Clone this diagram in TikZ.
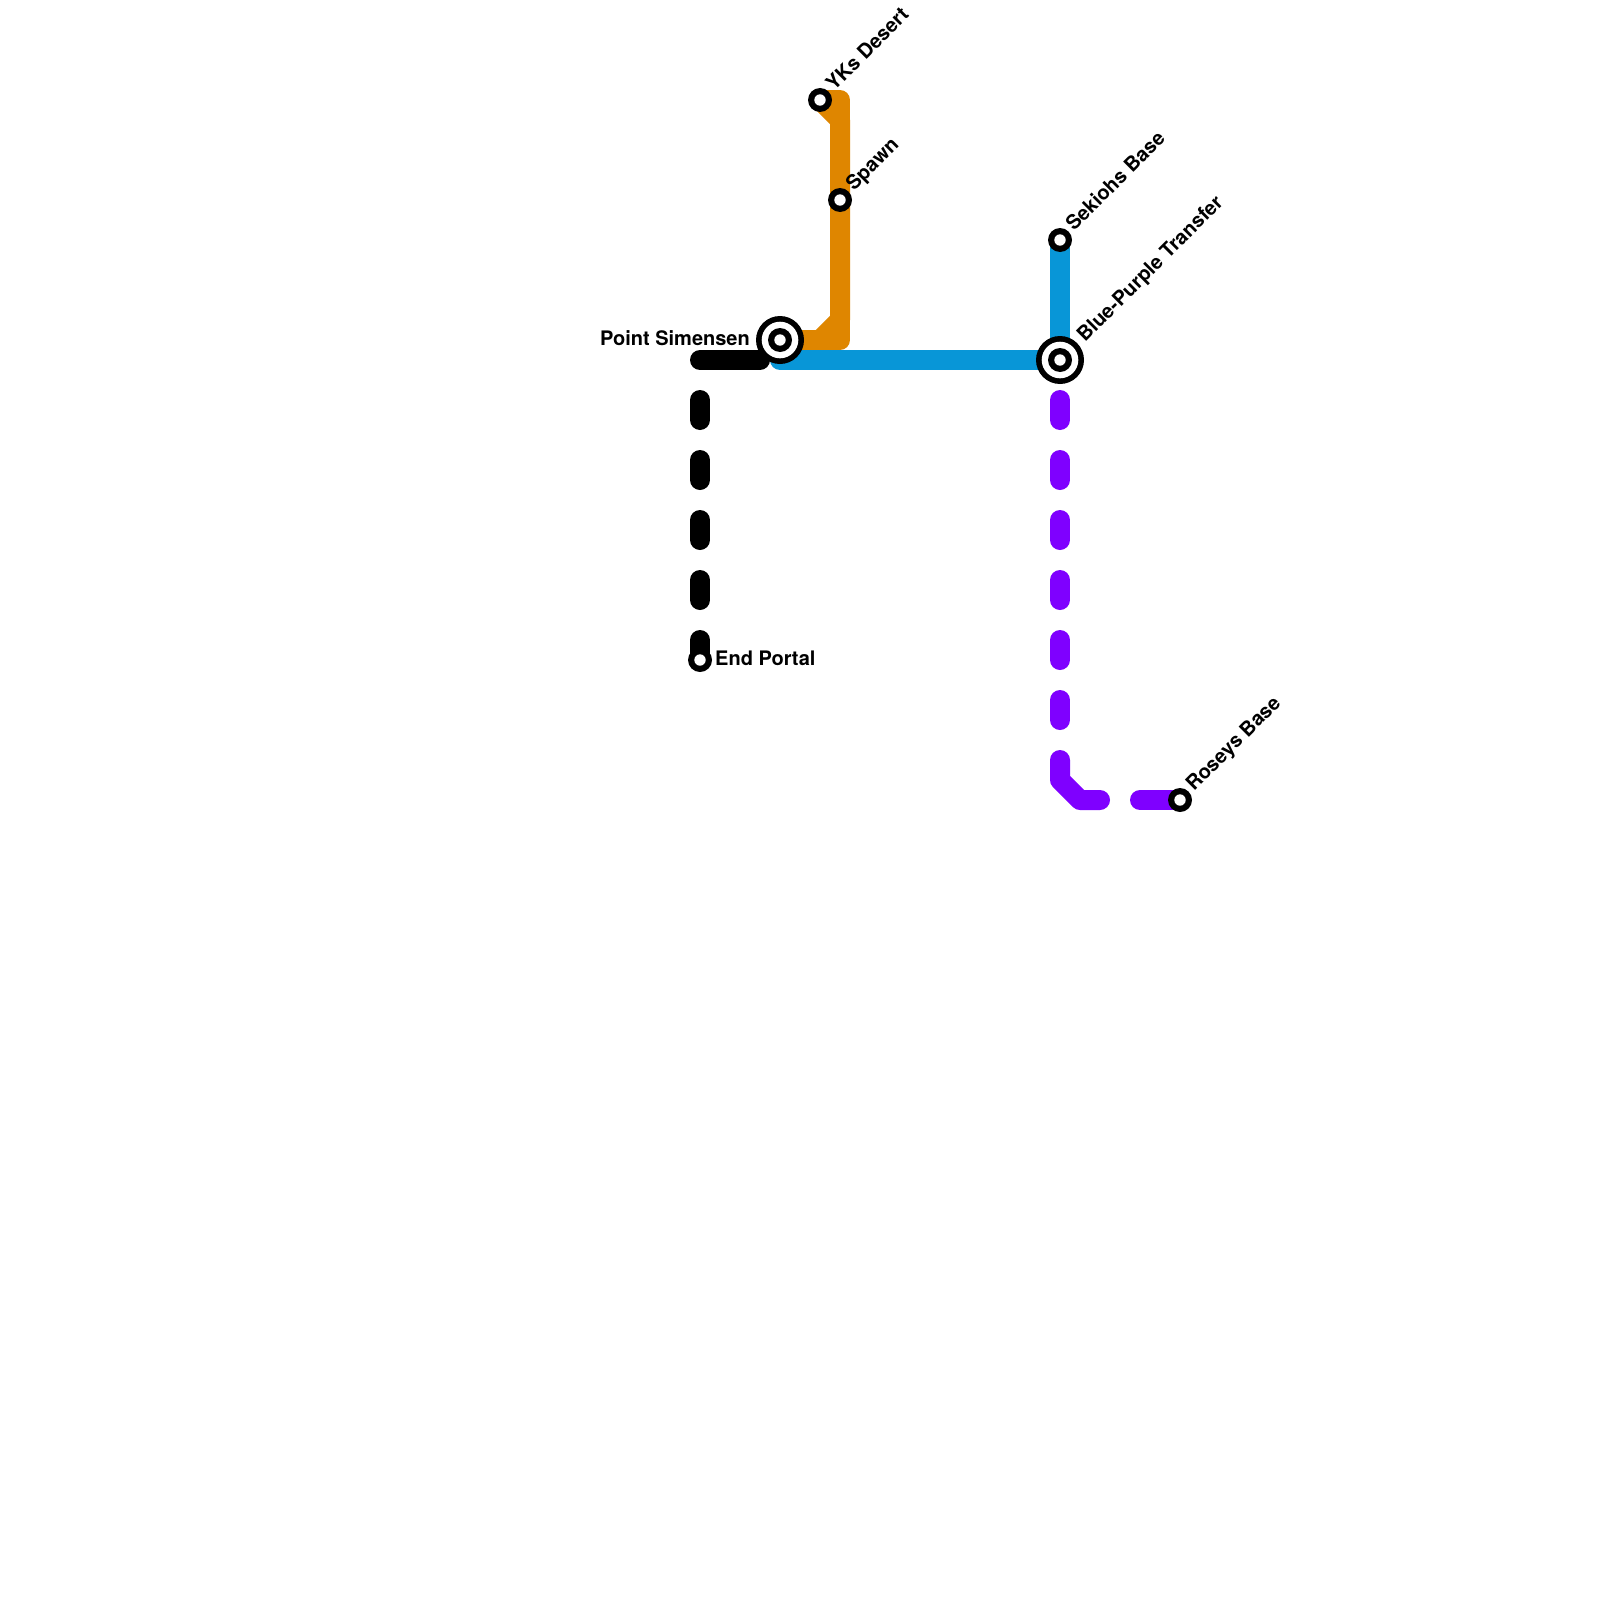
\documentclass[tikz,border=0pt]{standalone}
\usepackage{fontspec}
\setmainfont{TeX Gyre Heros}
\definecolor{orangeline}{HTML}{DF8600}
\definecolor{blueline}{HTML}{0896D7}
\definecolor{purpleline}{HTML}{7F00FF}
\tikzset{
  line/.style={line width=20pt,line join=round,line cap=round},
  lbl/.style={font=\fontsize{20pt}{24pt}\selectfont\bfseries,inner sep=0pt,text=black},
  diag/.style={lbl,rotate=45,anchor=base west},
}
\newcommand{\stopmark}[1]{%
  \fill[black] (#1) circle[radius=12pt];
  \fill[white] (#1) circle[radius=5.7pt];}
\newcommand{\hubmark}[1]{%
  \fill[black] (#1) circle[radius=24pt];
  \fill[white] (#1) circle[radius=18.3pt];
  \fill[black] (#1) circle[radius=12pt];
  \fill[white] (#1) circle[radius=5.7pt];}
\begin{document}
\begin{tikzpicture}[x=1pt,y=-1pt]
\useasboundingbox (0,0) rectangle (1600,1600);
\fill[white] (0,0) rectangle (1600,1600);
\coordinate (yks) at (820,100);
\coordinate (spawn) at (840,200);
\coordinate (point) at (780,340);
\coordinate (sek) at (1060,240);
\coordinate (trans) at (1060,360);
\coordinate (portal) at (700,660);
\coordinate (rosey) at (1180,800);
\coordinate (bk) at (700,360);
\coordinate (bkend) at (760,360);
\coordinate (bkv) at (700,400);
\coordinate (pv) at (1060,400);
\coordinate (pvend) at (1060,720);
\coordinate (pc1) at (1060,760);
\coordinate (pc2) at (1100,800);
\coordinate (pc3) at (1140,800);
% orange
\draw[line,orangeline] (point) -- (840,340) -- (840,100) -- (yks);
\draw[line,orangeline] (point) -- (820,340) -- (840,320) -- (840,120) -- (yks);
% blue
\draw[line,blueline] (sek) -- (trans) -- (point |- trans);
% black
\draw[line,black] (bk) -- (bkend);
\draw[line,black,dash pattern=on 20pt off 40pt] (bkv) -- (portal);
% purple
\draw[line,purpleline,dash pattern=on 20pt off 40pt] (pv) -- (pvend);
\draw[line,purpleline] (pc1) -- (1060,780) -- (1080,800) -- (pc2);
\draw[line,purpleline] (pc3) -- (rosey);
% stations
\stopmark{yks}\stopmark{spawn}\stopmark{sek}\stopmark{portal}\stopmark{rosey}
\hubmark{point}\hubmark{trans}
% labels
\node[diag] (lyks) at (834,92) {YKs Desert};
\node[diag] (lspawn) at (854,192) {Spawn};
\node[diag] (lsek) at (1074,232) {Sekiohs Base};
\node[diag] (ltrans) at (1085,343) {Blue-Purple Transfer};
\node[diag] (lrosey) at (1194,792) {Roseys Base};
\node[lbl,anchor=base east] (lpoint) at (750,345) {Point Simensen};
\node[lbl,anchor=base west] (lportal) at (715,665) {End Portal};
\end{tikzpicture}
\end{document}
